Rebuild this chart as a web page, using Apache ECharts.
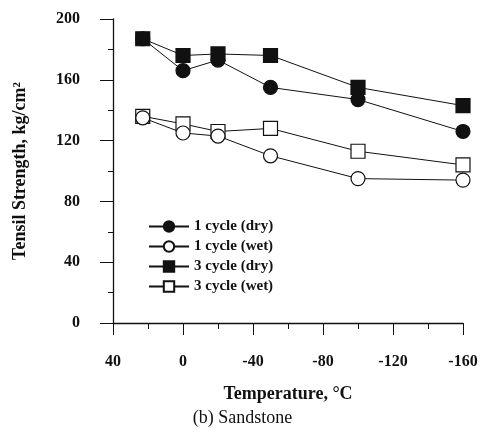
<!DOCTYPE html>
<html><head><meta charset="utf-8">
<script src="https://cdn.jsdelivr.net/npm/echarts@6/dist/echarts.min.js"></script>
<style>html,body{margin:0;padding:0;background:#fff}#c{width:485px;height:437px}</style>
</head><body><div id="c"></div>
<script>
var temps = [23, 0, -20, -50, -100, -160];
var dry1 = [187, 166, 173, 155, 147, 126];
var wet1 = [135, 125, 123, 110, 95, 94];
var dry3 = [187, 176, 177, 176, 155, 143];
var wet3 = [136, 131, 126, 128, 113, 104];
var names = ['1 cycle (dry)', '1 cycle (wet)', '3 cycle (dry)', '3 cycle (wet)'];
var xTicks = [40, 0, -40, -80, -120, -160];
var yTicks = [0, 40, 80, 120, 160, 200];

function pts(v){ return temps.map(function(t,i){ return [t, v[i]]; }); }
var serif = '"Liberation Serif", "DejaVu Serif", serif';
function mk(name, vals, sym, filled){
  return {
    name: name, type: 'line', data: pts(vals), symbol: sym, symbolSize: 14,
    lineStyle: {color: '#111', width: 1},
    itemStyle: {color: filled ? '#111' : '#fff', borderColor: '#111', borderWidth: 1.2},
    emphasis: {disabled: true}, animation: false
  };
}
var chart = echarts.init(document.getElementById('c'));
chart.setOption({
  animation: false,
  grid: {left: 113, right: 22, top: 19, bottom: 114},
  legend: {
    orient: 'vertical', left: 143, top: 214, itemWidth: 40, itemHeight: 13, itemGap: 5,
    textStyle: {fontFamily: serif, fontWeight: 'bold', fontSize: 15, color: '#111'},
    data: names
  },
  xAxis: {
    type: 'value', inverse: true, min: -160, max: 40, interval: 40,
    name: 'Temperature, °C', nameLocation: 'middle', nameGap: 62,
    nameTextStyle: {fontFamily: serif, fontWeight: 'bold', fontSize: 18, color: '#111'},
    axisLine: {show: true, onZero: false, lineStyle: {color: '#111', width: 1.3}},
    axisTick: {show: true, inside: false, length: 12, lineStyle: {color: '#111'}},
    minorTick: {show: true, splitNumber: 2, length: 6, lineStyle: {color: '#111'}},
    splitLine: {show: false},
    axisLabel: {margin: 31, fontFamily: serif, fontWeight: 'bold', fontSize: 16, color: '#111',
      formatter: function(v){ return xTicks.indexOf(v) >= 0 ? String(v) : ''; }}
  },
  yAxis: {
    type: 'value', min: 0, max: 200, interval: 40,
    name: 'Tensil Strength, kg/cm²', nameLocation: 'middle', nameGap: 84, nameRotate: 90,
    nameTextStyle: {fontFamily: serif, fontWeight: 'bold', fontSize: 18, color: '#111'},
    axisLine: {show: true, onZero: false, lineStyle: {color: '#111', width: 1.3}},
    axisTick: {show: true, inside: false, length: 13, lineStyle: {color: '#111'}},
    minorTick: {show: true, splitNumber: 2, length: 5, lineStyle: {color: '#111'}},
    splitLine: {show: false},
    axisLabel: {margin: 33, fontFamily: serif, fontWeight: 'bold', fontSize: 16, color: '#111',
      formatter: function(v){ return yTicks.indexOf(v) >= 0 ? String(v) : ''; }}
  },
  graphic: [{
    type: 'text', left: 'center', top: 409,
    style: {text: '(b) Sandstone', font: '18px ' + serif, fill: '#111', x: 0}
  }],
  series: [
    mk(names[2], dry3, 'rect', true),
    mk(names[0], dry1, 'circle', true),
    mk(names[3], wet3, 'rect', false),
    mk(names[1], wet1, 'circle', false)
  ]
});
</script></body></html>
